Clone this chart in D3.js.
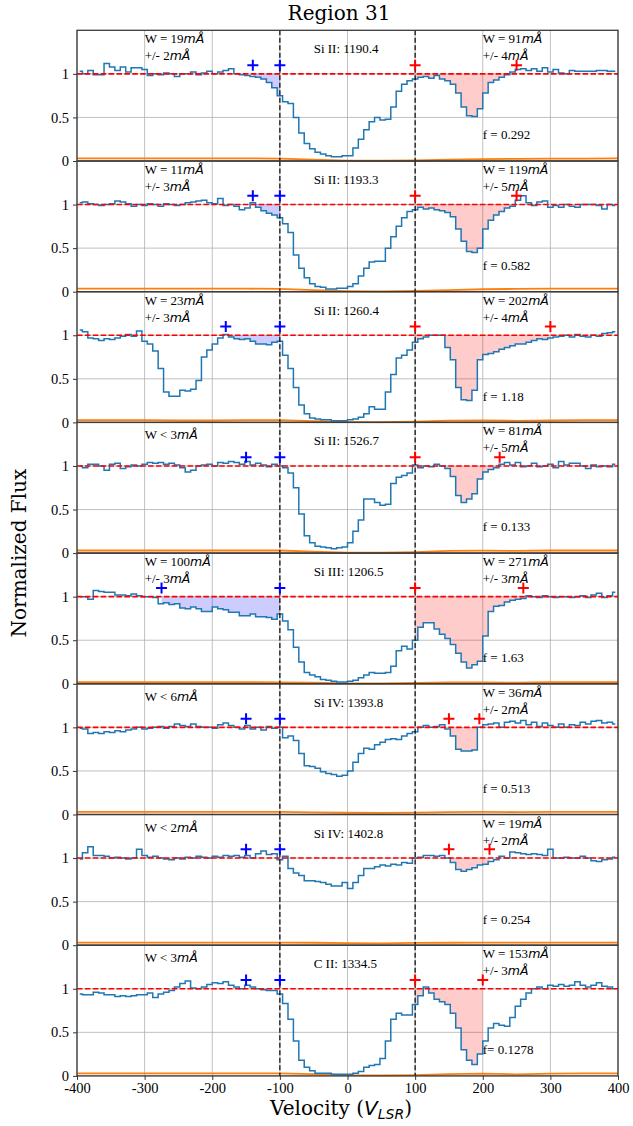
<!DOCTYPE html>
<html>
<head>
<meta charset="utf-8">
<script src="https://cdn.jsdelivr.net/npm/d3@7"></script>
<style>
  body { margin: 0; background: #fff; }
  svg { display: block; }
  .ann { font-family: "Liberation Serif", "Times New Roman", serif; font-size: 13px; fill: #000; }
  .math { font-family: "DejaVu Sans", sans-serif; font-style: italic; font-size: 12.5px; }
  .tick text { font-family: "Liberation Serif", serif; font-size: 14.5px; fill: #000; }
  .lab { font-family: "DejaVu Serif", serif; font-size: 20px; fill: #000; }
</style>
</head>
<body>
<div id="chart"></div>
<script>
// velocity bin centres (km/s) and sampling of the error spectrum
var velocity = d3.range(-396, 400, 8);
var errVelocity = d3.range(-400, 401, 50);

// normalized flux, one array per transition
var fluxSiII1190 = [
  1.03, 1.00, 1.04, 0.99, 0.99, 1.12, 1.08, 1.04, 1.08, 1.02,
  1.07, 1.07, 1.05, 0.98, 1.00, 0.99, 1.01, 1.00, 0.97, 1.00,
  1.00, 1.02, 0.99, 1.01, 1.03, 1.00, 1.02, 1.04, 1.06, 1.00,
  0.99, 0.98, 0.97, 0.96, 0.94, 0.90, 0.84, 0.75, 0.68, 0.66,
  0.50, 0.32, 0.20, 0.14, 0.10, 0.08, 0.06, 0.05, 0.05, 0.06,
  0.06, 0.15, 0.25, 0.36, 0.45, 0.50, 0.47, 0.48, 0.62, 0.80,
  0.88, 0.92, 0.94, 0.96, 0.97, 0.95, 0.98, 0.94, 0.92, 0.88,
  0.78, 0.62, 0.52, 0.51, 0.60, 0.78, 0.90, 0.93, 0.96, 0.99,
  1.02, 1.05, 1.06, 1.04, 1.06, 1.03, 1.07, 1.02, 1.05, 1.01,
  1.00, 1.04, 1.03, 1.03, 1.03, 1.03, 1.04, 1.04, 1.03, 1.03
];
var fluxSiII1193 = [
  1.02, 1.03, 1.01, 1.00, 0.99, 1.00, 1.01, 1.04, 1.03, 1.01,
  0.98, 1.00, 0.99, 1.01, 1.00, 0.98, 1.01, 1.00, 0.99, 1.00,
  1.02, 1.03, 1.04, 1.05, 1.02, 1.01, 1.07, 0.99, 1.00, 0.98,
  0.94, 0.96, 1.02, 0.97, 0.93, 0.90, 0.88, 0.85, 0.78, 0.68,
  0.42, 0.27, 0.16, 0.09, 0.06, 0.05, 0.03, 0.03, 0.04, 0.04,
  0.06, 0.09, 0.18, 0.27, 0.34, 0.35, 0.35, 0.50, 0.63, 0.75,
  0.85, 0.92, 0.94, 0.97, 0.95, 0.96, 0.94, 0.93, 0.91, 0.86,
  0.72, 0.58, 0.46, 0.45, 0.50, 0.72, 0.82, 0.88, 0.92, 0.96,
  0.98, 1.05, 1.10, 1.02, 0.99, 1.03, 1.04, 0.97, 0.99, 0.97,
  1.00, 0.98, 0.97, 1.00, 1.00, 1.00, 0.99, 0.95, 1.00, 0.99
];
var fluxSiII1260 = [
  1.06, 1.04, 0.97, 0.96, 0.94, 0.96, 0.95, 0.97, 0.99, 1.01,
  0.99, 1.05, 0.93, 0.90, 0.82, 0.62, 0.35, 0.30, 0.30, 0.37,
  0.36, 0.38, 0.48, 0.75, 0.83, 0.90, 0.97, 1.01, 0.98, 0.96,
  0.95, 0.96, 0.93, 0.90, 0.90, 0.89, 0.92, 0.93, 0.77, 0.62,
  0.40, 0.20, 0.10, 0.05, 0.04, 0.03, 0.03, 0.02, 0.02, 0.02,
  0.03, 0.04, 0.06, 0.10, 0.18, 0.15, 0.15, 0.35, 0.55, 0.74,
  0.77, 0.83, 0.92, 0.96, 0.98, 1.00, 1.00, 1.00, 0.86, 0.72,
  0.40, 0.26, 0.25, 0.37, 0.72, 0.78, 0.79, 0.81, 0.84, 0.86,
  0.88, 0.90, 0.90, 0.92, 0.94, 0.96, 0.95, 0.97, 0.98, 0.99,
  1.00, 0.98, 1.01, 0.99, 0.98, 1.00, 0.99, 1.02, 1.03, 1.04
];
var fluxSiII1526 = [
  1.00, 0.98, 1.02, 1.02, 1.00, 0.95, 1.02, 1.03, 0.97, 0.99,
  1.01, 1.00, 1.02, 1.04, 1.03, 1.04, 1.02, 1.03, 1.01, 0.98,
  0.93, 0.95, 1.00, 1.01, 1.02, 1.00, 1.04, 1.03, 1.05, 1.04,
  1.02, 1.05, 1.01, 1.03, 1.01, 0.99, 1.02, 1.00, 0.98, 0.92,
  0.75, 0.45, 0.20, 0.12, 0.08, 0.07, 0.06, 0.05, 0.06, 0.07,
  0.12, 0.25, 0.38, 0.62, 0.62, 0.58, 0.55, 0.56, 0.80, 0.87,
  0.89, 0.92, 1.01, 0.98, 1.00, 0.99, 1.02, 1.00, 0.97, 0.88,
  0.66, 0.58, 0.62, 0.68, 0.85, 0.93, 0.96, 0.98, 1.02, 1.04,
  1.01, 1.04, 0.99, 1.00, 1.03, 0.99, 1.00, 1.02, 0.98, 1.05,
  1.01, 1.03, 1.03, 1.00, 0.97, 1.01, 0.99, 1.00, 0.99, 1.02
];
var fluxSiIII1206 = [
  1.00, 1.00, 0.97, 1.07, 1.06, 1.05, 1.05, 1.02, 1.02, 1.01,
  1.03, 1.01, 1.00, 1.00, 0.99, 0.92, 0.93, 0.91, 0.92, 0.87,
  0.86, 0.88, 0.86, 0.83, 0.83, 0.88, 0.86, 0.85, 0.82, 0.82,
  0.78, 0.78, 0.80, 0.77, 0.77, 0.76, 0.74, 0.80, 0.72, 0.62,
  0.42, 0.25, 0.13, 0.10, 0.08, 0.05, 0.04, 0.03, 0.02, 0.02,
  0.03, 0.04, 0.07, 0.10, 0.13, 0.12, 0.12, 0.13, 0.20, 0.38,
  0.43, 0.40, 0.50, 0.65, 0.70, 0.70, 0.63, 0.57, 0.52, 0.45,
  0.35, 0.25, 0.18, 0.22, 0.26, 0.55, 0.83, 0.89, 0.90, 0.94,
  0.96, 0.97, 0.98, 1.01, 1.00, 0.99, 1.01, 1.00, 0.99, 1.00,
  1.00, 0.99, 1.00, 1.01, 0.99, 1.02, 1.04, 0.99, 1.01, 1.05
];
var fluxSiIV1393 = [
  0.99, 0.98, 0.93, 0.94, 0.93, 0.95, 0.94, 0.96, 0.95, 0.97,
  0.98, 1.00, 0.98, 0.99, 1.00, 1.01, 0.99, 1.01, 1.04, 1.02,
  1.01, 1.04, 1.01, 1.00, 1.00, 0.99, 1.03, 1.05, 1.02, 1.00,
  0.98, 1.02, 0.98, 1.00, 0.97, 1.01, 0.99, 1.00, 0.88, 0.90,
  0.85, 0.70, 0.56, 0.55, 0.53, 0.49, 0.47, 0.46, 0.44, 0.45,
  0.50, 0.60, 0.70, 0.76, 0.75, 0.80, 0.83, 0.86, 0.87, 0.86,
  0.90, 0.93, 0.95, 1.00, 1.02, 1.00, 1.01, 1.03, 0.98, 0.90,
  0.75, 0.73, 0.73, 0.74, 1.00, 1.03, 1.04, 1.05, 1.00, 1.06,
  1.07, 1.05, 1.08, 1.03, 1.06, 1.01, 1.05, 1.02, 1.00, 1.04,
  1.00, 1.03, 1.02, 1.06, 1.04, 1.07, 1.08, 1.05, 1.06, 1.04
];
var fluxSiIV1402 = [
  0.99, 1.06, 1.13, 1.03, 1.03, 1.02, 1.00, 1.01, 1.00, 0.99,
  1.00, 1.10, 1.03, 1.01, 1.02, 1.00, 0.99, 0.98, 1.00, 0.99,
  1.01, 1.00, 1.02, 1.01, 1.00, 1.02, 1.01, 1.03, 1.02, 1.03,
  1.01, 1.03, 1.00, 1.05, 1.08, 1.04, 1.05, 0.98, 1.02, 0.88,
  0.83, 0.80, 0.74, 0.74, 0.73, 0.72, 0.70, 0.68, 0.68, 0.72,
  0.65, 0.72, 0.80, 0.88, 0.88, 0.90, 0.92, 0.91, 0.93, 0.92,
  0.95, 0.94, 1.00, 1.01, 1.03, 1.03, 1.02, 1.03, 1.00, 0.95,
  0.87, 0.85, 0.87, 0.89, 0.92, 0.93, 0.96, 0.98, 1.02, 1.00,
  1.07, 1.06, 1.05, 1.04, 1.05, 1.04, 1.03, 1.10, 1.00, 1.00,
  1.01, 1.00, 1.00, 1.02, 1.00, 0.97, 0.96, 0.98, 0.99, 1.01
];
var fluxCII1334 = [
  0.94, 0.93, 0.93, 0.96, 0.95, 0.93, 0.93, 0.91, 0.92, 0.91,
  0.92, 0.93, 0.93, 0.95, 0.90, 0.94, 0.96, 0.98, 1.02, 1.06,
  1.09, 1.01, 1.00, 1.02, 1.05, 1.07, 1.06, 1.08, 1.04, 1.02,
  1.00, 1.04, 1.02, 1.00, 0.99, 0.98, 0.98, 0.94, 0.83, 0.65,
  0.40, 0.18, 0.10, 0.06, 0.03, 0.03, 0.03, 0.02, 0.02, 0.02,
  0.02, 0.03, 0.05, 0.10, 0.12, 0.13, 0.20, 0.40, 0.65, 0.72,
  0.70, 0.70, 0.82, 0.92, 1.02, 0.95, 0.88, 0.85, 0.82, 0.72,
  0.55, 0.30, 0.18, 0.13, 0.25, 0.40, 0.55, 0.60, 0.58, 0.57,
  0.67, 0.80, 0.88, 0.95, 1.00, 1.02, 1.00, 1.04, 1.03, 1.05,
  1.03, 1.04, 1.08, 1.04, 1.02, 1.04, 1.07, 1.03, 1.02, 1.00
];

// error spectra
var errSiII1190 = [0.03, 0.03, 0.03, 0.03, 0.03, 0.03, 0.028, 0.015, 0.005, 0.003, 0.006, 0.015, 0.022, 0.025, 0.027, 0.028, 0.03];
var errSiII1193 = [0.035, 0.035, 0.035, 0.035, 0.035, 0.035, 0.032, 0.018, 0.007, 0.004, 0.008, 0.018, 0.028, 0.032, 0.035, 0.035, 0.035];
var errSiII1260 = [0.025, 0.025, 0.025, 0.022, 0.022, 0.025, 0.025, 0.015, 0.005, 0.004, 0.008, 0.02, 0.022, 0.018, 0.022, 0.025, 0.025];
var errSiII1526 = [0.03, 0.03, 0.03, 0.03, 0.03, 0.03, 0.03, 0.018, 0.006, 0.004, 0.012, 0.025, 0.028, 0.025, 0.03, 0.03, 0.03];
var errSiIII1206 = [0.02, 0.02, 0.02, 0.02, 0.018, 0.018, 0.017, 0.012, 0.006, 0.005, 0.01, 0.015, 0.015, 0.012, 0.018, 0.02, 0.02];
var errSiIV1393 = [0.03, 0.03, 0.03, 0.03, 0.03, 0.03, 0.03, 0.025, 0.02, 0.018, 0.022, 0.027, 0.03, 0.028, 0.03, 0.03, 0.03];
var errSiIV1402 = [0.03, 0.03, 0.03, 0.03, 0.03, 0.03, 0.03, 0.028, 0.024, 0.022, 0.026, 0.028, 0.03, 0.03, 0.03, 0.03, 0.03];
var errCII1334 = [0.03, 0.03, 0.03, 0.03, 0.03, 0.03, 0.03, 0.02, 0.008, 0.005, 0.01, 0.02, 0.025, 0.018, 0.025, 0.03, 0.03];

// labels and measurements
var lineLabels = ["Si II: 1190.4", "Si II: 1193.3", "Si II: 1260.4", "Si II: 1526.7",
                  "Si III: 1206.5", "Si IV: 1393.8", "Si IV: 1402.8", "C II: 1334.5"];
var leftW = ["W = 19", "W = 11", "W = 23", "W < 3", "W = 100", "W < 6", "W < 2", "W < 3"];
var leftErr = ["+/- 2", "+/- 3", "+/- 3", null, "+/- 3", null, null, null];
var rightW = ["W = 91", "W = 119", "W = 202", "W = 81", "W = 271", "W = 36", "W = 19", "W = 153"];
var rightErr = ["+/- 4", "+/- 5", "+/- 4", "+/- 5", "+/- 3", "+/- 2", "+/- 2", "+/- 3"];
var fLabels = ["f = 0.292", "f = 0.582", "f = 1.18", "f = 0.133", "f = 1.63", "f = 0.513", "f = 0.254", "f= 0.1278"];
var blueMarks = [[-140, -100], [-140, -100], [-180, -100], [-150, -100], [-275, -100], [-150, -100], [-150, -100], [-150, -100]];
var redMarks = [[100, 250], [100, 250], [100, 300], [100, 225], [100, 260], [150, 195], [150, 210], [100, 200]];
var xTicks = [-400, -300, -200, -100, 0, 100, 200, 300, 400];
var yTicks = [0, 0.5, 1];

var fluxes = [fluxSiII1190, fluxSiII1193, fluxSiII1260, fluxSiII1526, fluxSiIII1206, fluxSiIV1393, fluxSiIV1402, fluxCII1334];
var errors = [errSiII1190, errSiII1193, errSiII1260, errSiII1526, errSiIII1206, errSiIV1393, errSiIV1402, errCII1334];

// layout
var W = 633, H = 1126;
var left = 77, right = 618, top0 = 30.3, panelH = 130.7;

var svg = d3.select("#chart").append("svg").attr("width", W).attr("height", H);

var x = d3.scaleLinear().domain([-400, 400]).range([left, right]);
var y = d3.scaleLinear().domain([0, 1.5]).range([panelH, 0]);

var stepLine = d3.line().curve(d3.curveStep)
  .x(function(d) { return x(d.v); }).y(function(d) { return y(d.f); });
var absArea = d3.area().curve(d3.curveStep)
  .x(function(d) { return x(d.v); })
  .y0(y(1))
  .y1(function(d) { return y(Math.min(d.f, 1)); });
var errLine = d3.line()
  .x(function(d) { return x(d.v); }).y(function(d) { return y(d.e); });

var defs = svg.append("defs");

function addW(g, xp, yp, plain) {
  var t = g.append("text").attr("class", "ann").attr("x", xp).attr("y", yp);
  t.append("tspan").text(plain);
  t.append("tspan").attr("class", "math").text("mÅ");
}

fluxes.forEach(function(flux, p) {
  var g = svg.append("g").attr("transform", "translate(0," + (top0 + p * panelH) + ")");
  var data = velocity.map(function(v, i) { return {v: v, f: flux[i]}; });
  var err = errVelocity.map(function(v, i) { return {v: v, e: errors[p][i]}; });

  // grid
  g.selectAll(".gx").data(xTicks).enter().append("line")
    .attr("x1", function(d) { return x(d); }).attr("x2", function(d) { return x(d); })
    .attr("y1", 0).attr("y2", panelH)
    .attr("stroke", "#b0b0b0").attr("stroke-width", 0.8);
  g.selectAll(".gy").data(yTicks).enter().append("line")
    .attr("x1", left).attr("x2", right)
    .attr("y1", function(d) { return y(d); }).attr("y2", function(d) { return y(d); })
    .attr("stroke", "#b0b0b0").attr("stroke-width", 0.8);

  // shaded absorption windows
  var ranges = [];
  if (leftErr[p] !== null) ranges.push({r: blueMarks[p], c: "blue"});
  ranges.push({r: redMarks[p], c: "red"});
  ranges.forEach(function(rg, k) {
    var id = "clip" + p + "_" + k;
    defs.append("clipPath").attr("id", id).append("rect")
      .attr("x", x(rg.r[0])).attr("y", 0)
      .attr("width", x(rg.r[1]) - x(rg.r[0])).attr("height", panelH);
    g.append("path").datum(data)
      .attr("d", absArea)
      .attr("clip-path", "url(#" + id + ")")
      .attr("fill", rg.c).attr("fill-opacity", 0.2);
  });

  // error spectrum and flux
  g.append("path").datum(err).attr("d", errLine)
    .attr("fill", "none").attr("stroke", "#ff7f0e").attr("stroke-width", 1.8);
  g.append("path").datum(data).attr("d", stepLine)
    .attr("fill", "none").attr("stroke", "#1f77b4").attr("stroke-width", 1.5);

  // continuum and integration limits
  g.append("line").attr("x1", left).attr("x2", right).attr("y1", y(1)).attr("y2", y(1))
    .attr("stroke", "red").attr("stroke-width", 1.6).attr("stroke-dasharray", "5.5,2.4");
  [-100, 100].forEach(function(v) {
    g.append("line").attr("x1", x(v)).attr("x2", x(v)).attr("y1", 0).attr("y2", panelH)
      .attr("stroke", "#000").attr("stroke-width", 1.2).attr("stroke-dasharray", "5,2.5");
  });

  // markers
  [{m: blueMarks[p], c: "blue"}, {m: redMarks[p], c: "red"}].forEach(function(s) {
    g.selectAll(null).data(s.m).enter().append("path")
      .attr("transform", function(d) { return "translate(" + x(d) + "," + y(1.1) + ")"; })
      .attr("d", "M-5.5,0H5.5M0,-5.5V5.5")
      .attr("stroke", s.c).attr("stroke-width", 2);
  });

  // annotations
  if (leftErr[p] !== null) {
    addW(g, x(-300), 13, leftW[p]);
    addW(g, x(-300), 30, leftErr[p]);
  } else {
    addW(g, x(-300), 17, leftW[p]);
  }
  g.append("text").attr("class", "ann").attr("x", x(-50)).attr("y", 23).text(lineLabels[p]);
  addW(g, x(200), 13, rightW[p]);
  addW(g, x(200), 30, rightErr[p]);
  g.append("text").attr("class", "ann").attr("x", x(200)).attr("y", 109).text(fLabels[p]);

  // y axis
  var ya = g.append("g").attr("transform", "translate(" + left + ",0)")
    .call(d3.axisLeft(y).tickValues(yTicks).tickSize(4).tickPadding(4)
      .tickFormat(function(d) { return String(d); }));
  ya.select(".domain").remove();
  ya.selectAll(".tick line").attr("stroke", "#333");

  // frame
  g.append("rect").attr("x", left).attr("y", 0).attr("width", right - left).attr("height", panelH)
    .attr("fill", "none").attr("stroke", "#3a3a3a").attr("stroke-width", 1.3);

  if (p === fluxes.length - 1) {
    var xa = g.append("g").attr("transform", "translate(0," + panelH + ")")
      .call(d3.axisBottom(x).tickValues(xTicks).tickSize(4).tickPadding(3)
        .tickFormat(function(d) { return String(d); }));
    xa.select(".domain").remove();
    xa.selectAll(".tick line").attr("stroke", "#333");
  }
});

// titles
svg.append("text").attr("class", "lab").attr("x", 339).attr("y", 20)
  .attr("text-anchor", "middle").text("Region 31");

svg.append("text").attr("class", "lab")
  .attr("transform", "translate(26," + (top0 + 4 * panelH) + ") rotate(-90)")
  .attr("text-anchor", "middle").text("Normalized Flux");

var xl = svg.append("text").attr("class", "lab").attr("x", 341).attr("y", 1115)
  .attr("text-anchor", "middle");
xl.append("tspan").text("Velocity (");
xl.append("tspan").style("font-family", "DejaVu Sans").style("font-style", "italic").text("V");
xl.append("tspan").style("font-family", "DejaVu Sans").style("font-style", "italic")
  .style("font-size", "14px").attr("dy", 4).text("LSR");
xl.append("tspan").attr("dy", -4).text(")");
</script>
</body>
</html>
